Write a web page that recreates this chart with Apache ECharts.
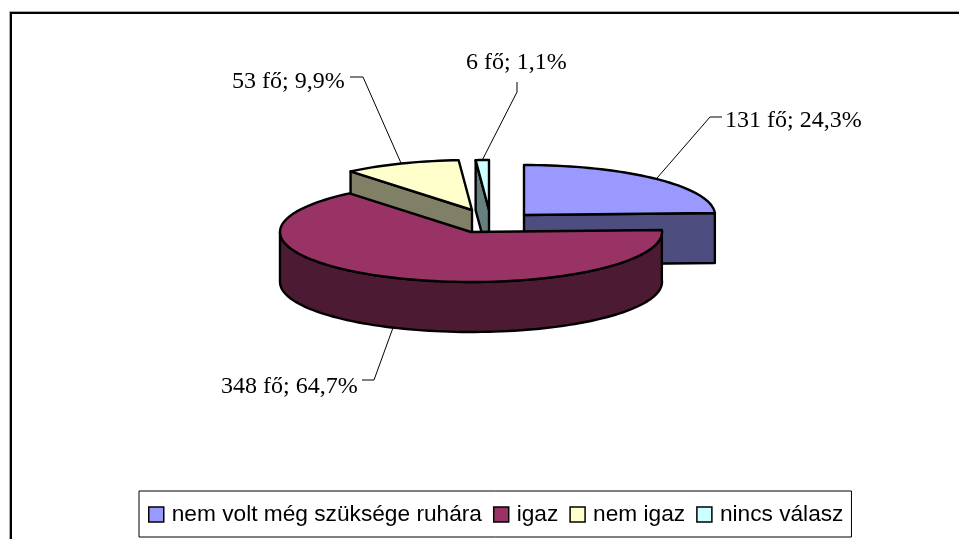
<!DOCTYPE html>
<html>
<head>
<meta charset="utf-8">
<title>Pie</title>
<script src="https://cdn.jsdelivr.net/npm/echarts@6/dist/echarts.min.js"></script>
<style>
html, body { margin: 0; padding: 0; background: #fff; }
#chart { width: 959px; height: 539px; }
</style>
</head>
<body>
<div id="chart"></div>
<script>
const sliceNames = ['nem volt még szüksége ruhára', 'igaz', 'nem igaz', 'nincs válasz'];
const sliceValues = [131, 348, 53, 6];
const unit = 'fő';

// look of the slices
const topColors = ['#9999ff', '#993366', '#ffffcc', '#ccffff'];
const wallColors = ['#4d4d80', '#4d1a33', '#808066', '#668080'];
const drawOrder = [0, 3, 2, 1]; // back to front

// exploded 3d layout, pixels
const centers = [[524, 215], [471, 232], [472, 210], [489, 210]];
const radiusX = 191;
const radiusY = 50;
const depth = 50;
const labelLeft = [725, 221, 232, 466];
const labelMiddle = [121, 387, 82, 63];
const knees = [[[710, 117], [722, 117]], [[374, 380], [362, 380]], [[363, 77], [350, 77]], [[517, 92], [517, 82]]];

const total = sliceValues.reduce((a, b) => a + b, 0);
const bounds = [];
let acc = 0;
sliceValues.forEach(v => {
    bounds.push([acc / total * 360, (acc + v) / total * 360]);
    acc += v;
});

function rimPoint(i, deg, drop) {
    const rad = deg * Math.PI / 180;
    return [
        centers[i][0] + radiusX * Math.sin(rad),
        centers[i][1] - radiusY * Math.cos(rad) + drop
    ];
}

function rim(i, from, to, drop) {
    const pts = [];
    const steps = Math.max(2, Math.ceil((to - from) / 2));
    for (let s = 0; s <= steps; s++) {
        pts.push(rimPoint(i, from + (to - from) * s / steps, drop));
    }
    return pts;
}

function sideWall(i, deg) {
    const c = centers[i];
    const p = rimPoint(i, deg, 0);
    return [c, p, [p[0], p[1] + depth], [c[0], c[1] + depth]];
}

function face(points, fill) {
    return {
        type: 'polygon',
        shape: { points: points },
        style: { fill: fill, stroke: '#000', lineWidth: 2.4, lineJoin: 'round' }
    };
}

function labelText(i) {
    const pct = (sliceValues[i] / total * 100).toFixed(1).replace('.', ',');
    return sliceValues[i] + ' ' + unit + '; ' + pct + '%';
}

function drawSlice(i) {
    const from = bounds[i][0];
    const to = bounds[i][1];
    const mid = (from + to) / 2;
    const children = [];

    if (from > 180 && from < 360) children.push(face(sideWall(i, from), wallColors[i]));
    if (to > 0 && to < 180) children.push(face(sideWall(i, to), wallColors[i]));
    if (from < 270 && to > 90) {
        const a = from;
        const b = Math.min(to, 270);
        children.push(face(rim(i, a, b, 0).concat(rim(i, a, b, depth).reverse()), wallColors[i]));
    }
    children.push(face([centers[i]].concat(rim(i, from, to, 0)), topColors[i]));

    const onFront = mid > 90 && mid < 270;
    children.push({
        type: 'polyline',
        shape: { points: [rimPoint(i, mid, onFront ? depth : 0)].concat(knees[i]) },
        style: { fill: null, stroke: '#000', lineWidth: 1 }
    });
    children.push({
        type: 'text',
        style: {
            text: labelText(i),
            x: labelLeft[i],
            y: labelMiddle[i],
            verticalAlign: 'middle',
            fill: '#000',
            font: '24px "Liberation Serif"'
        }
    });
    return { type: 'group', children: children };
}

const chart = echarts.init(document.getElementById('chart'), null, { renderer: 'canvas' });

chart.setOption({
    animation: false,
    backgroundColor: '#fff',
    legend: {
        data: sliceNames,
        left: 139,
        top: 491,
        orient: 'horizontal',
        padding: [12, 8, 11, 9],
        itemGap: 11,
        itemWidth: 15,
        itemHeight: 15,
        icon: 'rect',
        backgroundColor: '#fff',
        borderColor: '#000',
        borderWidth: 1,
        borderRadius: 0,
        selectedMode: false,
        itemStyle: { borderColor: '#000', borderWidth: 1.5 },
        textStyle: { color: '#000', fontFamily: '"Liberation Sans"', fontSize: 22.7, padding: [0, 0, 0, 3] }
    },
    graphic: [
        { type: 'line', shape: { x1: 9.5, y1: 11.5, x2: 959, y2: 11.5 }, style: { stroke: '#aaa', lineWidth: 1 } },
        { type: 'line', shape: { x1: 9.5, y1: 11.5, x2: 9.5, y2: 539 }, style: { stroke: '#aaa', lineWidth: 1 } },
        { type: 'line', shape: { x1: 10, y1: 13, x2: 959, y2: 13 }, style: { stroke: '#000', lineWidth: 2 } },
        { type: 'line', shape: { x1: 11, y1: 12, x2: 11, y2: 539 }, style: { stroke: '#000', lineWidth: 2 } }
    ],
    series: drawOrder.map((i, order) => ({
        type: 'custom',
        name: sliceNames[i],
        coordinateSystem: 'none',
        silent: true,
        z: 2 + order,
        itemStyle: { color: topColors[i] },
        data: [[sliceValues[i]]],
        renderItem: () => drawSlice(i)
    }))
});
</script>
</body>
</html>
